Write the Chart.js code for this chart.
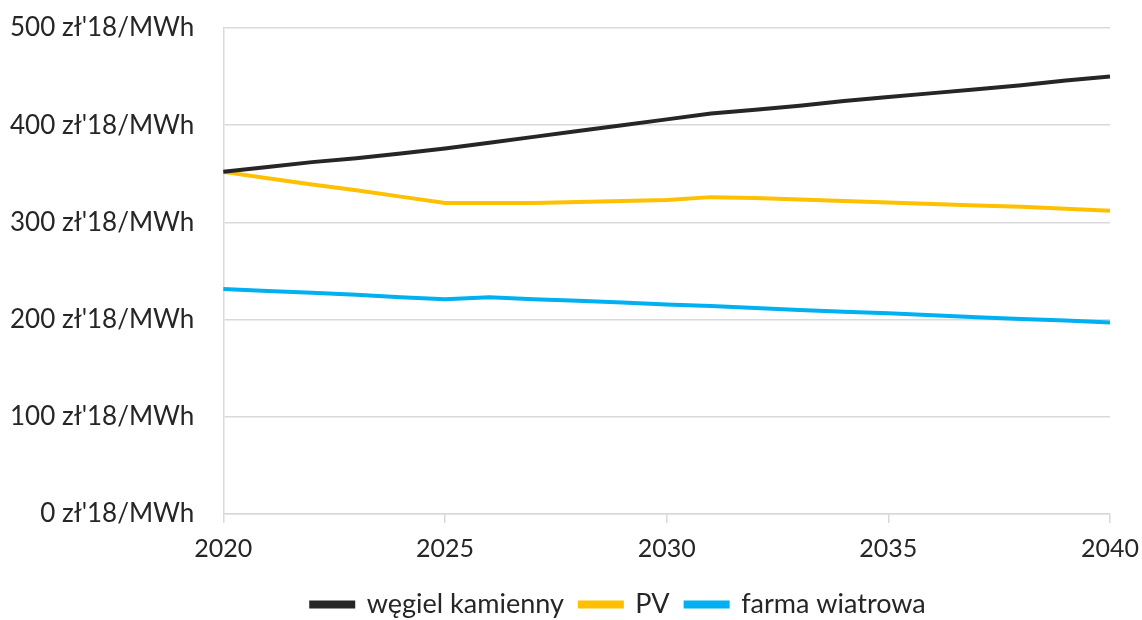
<!DOCTYPE html>
<html>
<head>
<meta charset="utf-8">
<script src="https://cdn.jsdelivr.net/npm/chart.js@4/dist/chart.umd.min.js"></script>
<style>
  html, body { margin: 0; padding: 0; background: #fff; }
  canvas { display: block; }
</style>
</head>
<body>
<canvas id="lcoeChart" width="1142" height="620"></canvas>
<script>
// lata 2020-2040, koszt w zł'18/MWh
const years = [];
for (let y = 2020; y <= 2040; y++) years.push(String(y));

const coal = [352, 357, 362, 366, 371, 376, 382, 388, 394, 400, 406, 412, 416, 420, 425, 429, 433, 437, 441, 446, 450];
const pv   = [352, 345.5, 339, 333, 326.5, 320, 320, 320, 321, 322, 323, 326, 325, 323.5, 322, 320.5, 319, 317.5, 316, 314, 312];
const wind = [231.5, 229.5, 227.5, 225.5, 223, 221, 223, 221, 219.5, 217.5, 215.5, 214, 212, 210, 208, 206.5, 204.5, 202.5, 200.5, 199, 197];

const seriesNames = ['węgiel kamienny', 'PV', 'farma wiatrowa'];
const yTicks = [0, 100, 200, 300, 400, 500];

const FONT = 'Lato';
const TXT = '#262626';
const GRID = '#d9d9d9';

const mkLine = (label, data, color) => ({
  label, data,
  borderColor: color,
  backgroundColor: color,
  borderWidth: 4,
  pointRadius: 0,
  tension: 0,
  fill: false
});

// legenda lekko przesunięta w prawo
const legendShift = {
  id: 'legendShift',
  afterLayout(chart) {
    chart.legend.left += 73;
    chart.legend.right += 73;
  }
};

function drawChart() {
  new Chart(document.getElementById('lcoeChart'), {
    type: 'line',
    data: {
      labels: years,
      datasets: [
        mkLine(seriesNames[0], coal, '#262626'),
        mkLine(seriesNames[1], pv, '#ffc000'),
        mkLine(seriesNames[2], wind, '#00b0f0')
      ]
    },
    plugins: [legendShift],
    options: {
      responsive: false,
      devicePixelRatio: 1,
      animation: false,
      layout: { padding: { top: 28, right: 32, left: -19, bottom: -8 } },
      plugins: {
        tooltip: { enabled: false },
        legend: {
          position: 'bottom',
          labels: {
            color: TXT,
            font: { family: FONT, size: 27 },
            boxWidth: 42,
            boxHeight: 4,
            padding: 16
          }
        }
      },
      scales: {
        x: {
          offset: false,
          grid: { drawOnChartArea: false, color: GRID, lineWidth: 1.5, tickLength: 9 },
          border: { color: GRID, width: 1.5 },
          afterFit: s => { s.paddingRight = 0; },
          ticks: {
            autoSkip: false,
            maxRotation: 0,
            color: TXT,
            font: { family: FONT, size: 25 },
            padding: 11,
            callback: function (v) {
              const lbl = this.getLabelForValue(v);
              return Number(lbl) % 5 === 0 ? lbl : null;
            }
          }
        },
        y: {
          min: 0,
          max: 500,
          afterBuildTicks: axis => { axis.ticks = yTicks.map(v => ({ value: v })); },
          afterFit: s => { s.paddingTop = 0; s.paddingBottom = 0; },
          grid: { color: GRID, lineWidth: 1.5, drawTicks: false },
          border: { color: GRID, width: 1.5 },
          ticks: {
            color: TXT,
            font: { family: FONT, size: 26 },
            padding: 29,
            callback: v => v + " zł'18/MWh"
          }
        }
      }
    }
  });
}

// czekamy na font, żeby szerokości etykiet liczyły się poprawnie
Promise.all([
  document.fonts.load('26px Lato'),
  document.fonts.load('27px Lato')
]).then(drawChart, drawChart);
</script>
</body>
</html>
